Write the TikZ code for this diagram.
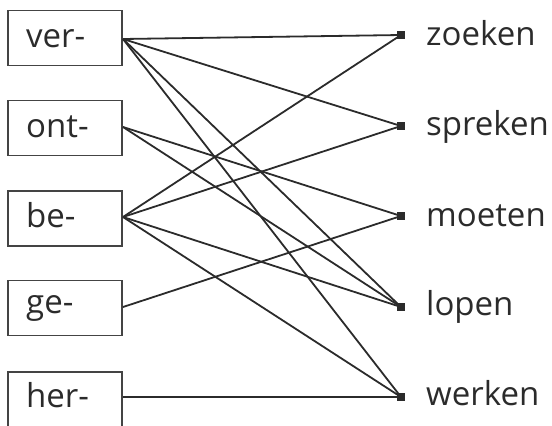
\documentclass[tikz,border=0pt]{standalone}
\usepackage{fontspec}
\setmainfont{Open Sans}
\definecolor{ink}{HTML}{2B2B2B}
\definecolor{boxline}{HTML}{444444}
\begin{document}
\begin{tikzpicture}[x=1pt,y=-1pt,
  pbox/.style={draw=boxline,line width=1.5pt,minimum width=114pt,minimum height=55pt,inner sep=0pt},
  word/.style={anchor=base west,inner sep=0pt,text=ink,font=\fontsize{33}{33}\selectfont},
  endsq/.style={fill=ink,minimum size=8pt,inner sep=0pt},
  link/.style={draw=ink,line width=1.8pt}]
\useasboundingbox (0,0) rectangle (552,426);
% prefix boxes
\node[pbox] (ver) at (65,38) {};
\node[pbox] (ont) at (65,128) {};
\node[pbox] (be)  at (65,218.5) {};
\node[pbox] (ge)  at (65,308) {};
\node[pbox] (her) at (65,399.5) {};
\node[word] (tver) at (26,47) {ver-};
\node[word] (tont) at (26,137) {ont-};
\node[word] (tbe)  at (26,227) {be-};
\node[word] (tge)  at (26,313) {ge-};
\node[word] (ther) at (26,407) {her-};
% end squares
\node[endsq] (zoe) at (401,35) {};
\node[endsq] (spr) at (401,126) {};
\node[endsq] (moe) at (401,216) {};
\node[endsq] (lop) at (401,307) {};
\node[endsq] (wer) at (401,397) {};
\node[word] (tzoe) at (426,45) {zoeken};
\node[word] (tspr) at (426,135) {spreken};
\node[word] (tmoe) at (426,226) {moeten};
\node[word] (tlop) at (426,315) {lopen};
\node[word] (twer) at (426,405) {werken};
% start points
\coordinate (sver) at (123,39);
\coordinate (sont) at (123,127);
\coordinate (sbe)  at (123,217);
\coordinate (sge)  at (123,307);
\coordinate (sher) at (123,397);
% connectors
\draw[link] (sver) -- (zoe.center);
\draw[link] (sver) -- (spr.center);
\draw[link] (sver) -- (lop.center);
\draw[link] (sver) -- (wer.center);
\draw[link] (sont) -- (moe.center);
\draw[link] (sont) -- (lop.center);
\draw[link] (sbe) -- (zoe.center);
\draw[link] (sbe) -- (spr.center);
\draw[link] (sbe) -- (lop.center);
\draw[link] (sbe) -- (wer.center);
\draw[link] (sge) -- (moe.center);
\draw[link] (sher) -- (wer.center);
\end{tikzpicture}
\end{document}
